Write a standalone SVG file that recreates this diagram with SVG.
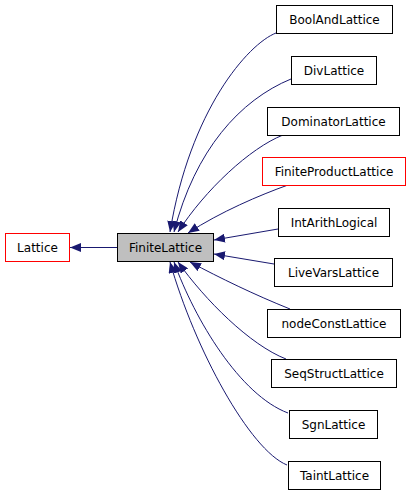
<svg xmlns="http://www.w3.org/2000/svg" width="411" height="493" viewBox="0 0 411 493">
<style>
.box{fill:#fff;stroke:#000;stroke-width:1}
.red{fill:#fff;stroke:#ff0000;stroke-width:1}
.cur{fill:#bfbfbf;stroke:#000;stroke-width:1}
text{font-family:"DejaVu Sans",sans-serif;font-size:12px;text-anchor:middle;fill:#000}
.edge{fill:none;stroke:#191970;stroke-width:1;marker-end:url(#arr)}
</style>
<defs>
<marker id="arr" viewBox="0 0 11 9" refX="11" refY="4.5" markerWidth="11" markerHeight="9" markerUnits="userSpaceOnUse" orient="auto">
<path d="M0,0 L11,4.5 L0,9 z" fill="#191970"/>
</marker>
</defs>
<g id="connectors">
<path class="edge" d="M117,247.5 L70,247.5"/>
<path class="edge" d="M276,33 C 248,44 190,110 170,232"/>
<path class="edge" d="M291,79 C 240,100 195,150 174,232"/>
<path class="edge" d="M283,135 C 250,148 205,190 178,232"/>
<path class="edge" d="M288,185 C 260,195 220,212 188,233"/>
<path class="edge" d="M278,229 L214,240"/>
<path class="edge" d="M274,264 L214,254"/>
<path class="edge" d="M290,309 C 255,295 220,278 190,262"/>
<path class="edge" d="M286,359 C 250,345 205,300 178,262"/>
<path class="edge" d="M288,413 C 240,395 195,320 174,262"/>
<path class="edge" d="M287,465 C 250,450 195,350 170,262"/>
</g>
<g id="Lattice"><rect class="red" stroke="#ff0000" x="5.5" y="233.5" width="64" height="28"/><text x="37.5" y="251.5">Lattice</text></g>
<g id="FiniteLattice"><rect class="cur" x="117.5" y="233.5" width="96" height="28"/><text x="165.5" y="251.5">FiniteLattice</text></g>
<g id="BoolAndLattice"><rect class="box" x="276.5" y="5.5" width="116" height="28"/><text x="334.5" y="23.5">BoolAndLattice</text></g>
<g id="DivLattice"><rect class="box" x="291.5" y="56.5" width="85" height="28"/><text x="334" y="74.5">DivLattice</text></g>
<g id="DominatorLattice"><rect class="box" x="267.5" y="107.5" width="132" height="28"/><text x="333.5" y="125.5">DominatorLattice</text></g>
<g id="FiniteProductLattice"><rect class="red" stroke="#ff0000" x="262.5" y="157.5" width="143" height="28"/><text x="334" y="175.5">FiniteProductLattice</text></g>
<g id="IntArithLogical"><rect class="box" x="278.5" y="208.5" width="111" height="28"/><text x="334" y="226.5">IntArithLogical</text></g>
<g id="LiveVarsLattice"><rect class="box" x="274.5" y="258.5" width="118" height="28"/><text x="333.5" y="276.5">LiveVarsLattice</text></g>
<g id="nodeConstLattice"><rect class="box" x="267.5" y="309.5" width="133" height="28"/><text x="334" y="327.5">nodeConstLattice</text></g>
<g id="SeqStructLattice"><rect class="box" x="271.5" y="359.5" width="125" height="28"/><text x="334" y="377.5">SeqStructLattice</text></g>
<g id="SgnLattice"><rect class="box" x="289.5" y="410.5" width="88" height="28"/><text x="333.5" y="428.5">SgnLattice</text></g>
<g id="TaintLattice"><rect class="box" x="288.5" y="461.5" width="92" height="28"/><text x="334.5" y="479.5">TaintLattice</text></g>
</svg>
